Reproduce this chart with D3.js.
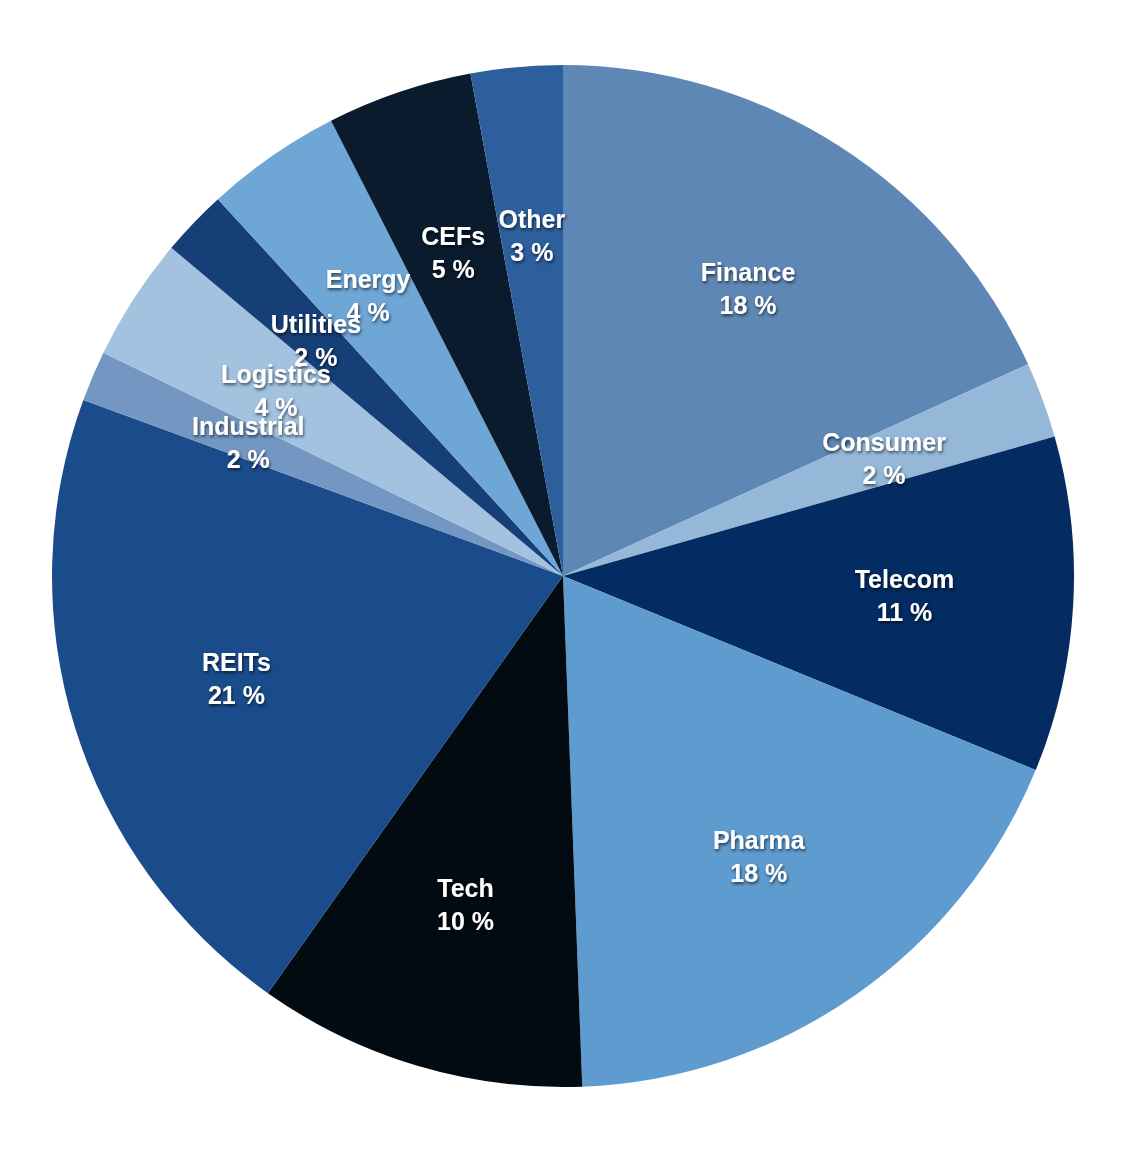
<!DOCTYPE html>
<html>
<head>
<meta charset="utf-8">
<script src="https://cdn.jsdelivr.net/npm/d3@7"></script>
<style>
  body { margin: 0; background: #fff; }
  svg text { font-family: "Liberation Sans", Arial, Helvetica, sans-serif; font-weight: bold; }
</style>
</head>
<body>
<script>
// Sector weights, clockwise from 12 o'clock
// =================================
var sectors = ['Finance', 'Consumer', 'Telecom', 'Pharma', 'Tech', 'REITs', 'Industrial', 'Logistics', 'Utilities', 'Energy', 'CEFs', 'Other'];
var weights = [18.2, 2.4, 10.6, 18.2, 10.4, 20.8, 1.6, 3.9, 2.1, 4.3, 4.6, 2.9];
var colors = ['#5f87b5', '#95b8d9', '#042c62', '#5e9bcf', '#020a12', '#1a4c8c', '#7397c2', '#a3c2e0', '#163f78', '#6ea6d6', '#0a1b2d', '#2d5f9d'];

let svgWidth = 1136;
let svgHeight = 1164;
let cx = 563, cy = 576;
let radius = 511;
let labelRadius = 342;

let svg = d3.select("body")
  .append("svg")
  .attr("width", svgWidth)
  .attr("height", svgHeight);

// drop shadow for the labels
let defs = svg.append("defs");
defs.append("filter")
  .attr("id", "shadow")
  .attr("x", "-20%").attr("y", "-20%")
  .attr("width", "140%").attr("height", "140%")
  .append("feDropShadow")
  .attr("dx", 1).attr("dy", 2)
  .attr("stdDeviation", 1.5)
  .attr("flood-color", "#000")
  .attr("flood-opacity", 0.6);

let chartGroup = svg.append("g")
  .attr("transform", `translate(${cx}, ${cy})`);

let data = sectors.map((s, i) => ({ name: s, value: weights[i], color: colors[i] }));

let pie = d3.pie()
  .sort(null)
  .value(d => d.value);

let arc = d3.arc().innerRadius(0).outerRadius(radius);
let labelArc = d3.arc().innerRadius(labelRadius).outerRadius(labelRadius);

let arcs = pie(data);

chartGroup.selectAll("path")
  .data(arcs)
  .enter()
  .append("path")
  .attr("d", arc)
  .attr("fill", d => d.data.color);

let labels = chartGroup.append("g")
  .attr("filter", "url(#shadow)")
  .selectAll("text")
  .data(arcs)
  .enter()
  .append("text")
  .attr("transform", d => `translate(${labelArc.centroid(d)})`)
  .attr("text-anchor", "middle")
  .attr("font-size", "25px")
  .attr("fill", "#fff");

labels.append("tspan")
  .attr("x", 0)
  .attr("y", -7)
  .text(d => d.data.name);

labels.append("tspan")
  .attr("x", 0)
  .attr("y", 26)
  .text(d => Math.round(d.data.value) + " %");
</script>
</body>
</html>
